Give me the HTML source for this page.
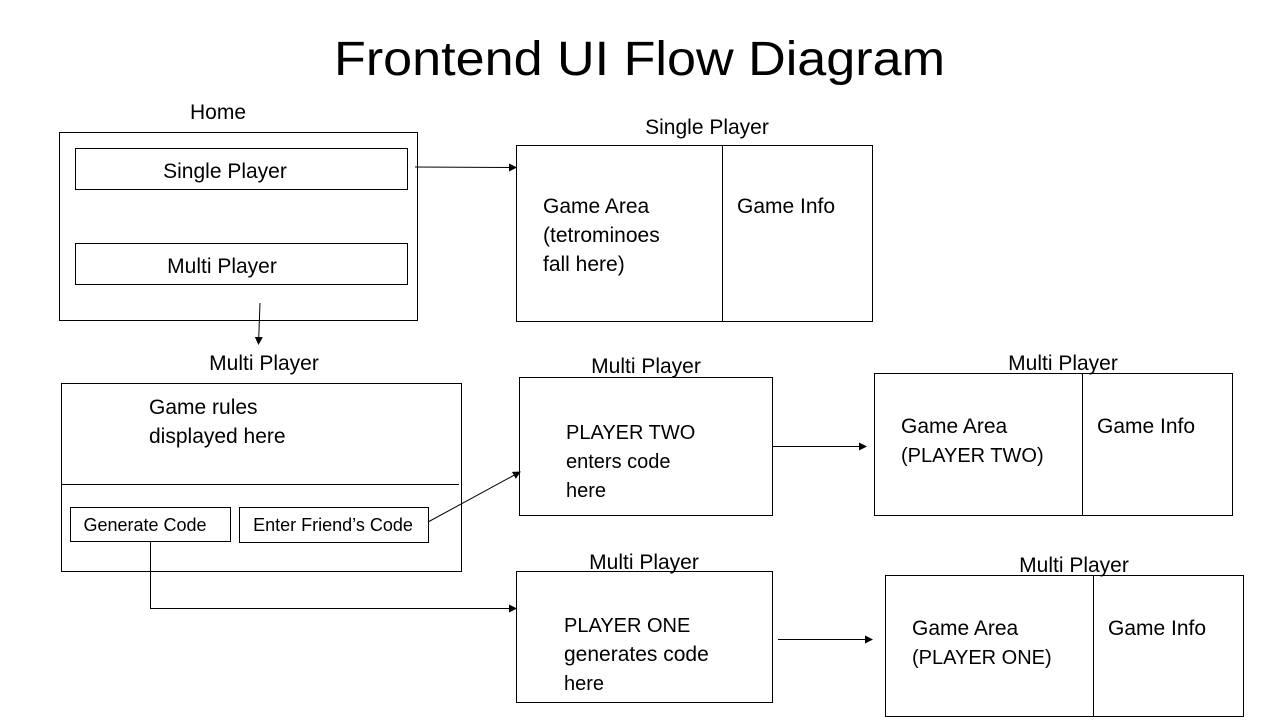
<!DOCTYPE html>
<html><head><meta charset="utf-8"><style>
html,body{margin:0;padding:0;background:#fff;}
svg{display:block}
text{font-family:"Liberation Sans",sans-serif;fill:#000;}
</style></head><body>
<svg width="1280" height="720" viewBox="0 0 1280 720" xmlns="http://www.w3.org/2000/svg">
<defs><marker id="a" markerWidth="8" markerHeight="8" refX="7" refY="4" orient="auto" markerUnits="userSpaceOnUse"><path d="M0,0 L8,4 L0,8 z" fill="#000"/></marker></defs>
<g fill="none" stroke="#000" stroke-width="1">
<rect x="59.5" y="132.5" width="358" height="188"/>
<rect x="75.5" y="148.5" width="332" height="41"/>
<rect x="75.5" y="243.5" width="332" height="41"/>
<rect x="516.5" y="145.5" width="356" height="176"/>
<line x1="722.5" y1="145" x2="722.5" y2="321"/>
<rect x="61.5" y="383.5" width="400" height="188"/>
<line x1="61" y1="484.5" x2="459" y2="484.5"/>
<rect x="70.5" y="507.5" width="160" height="34"/>
<rect x="239.5" y="507.5" width="189" height="35"/>
<rect x="519.5" y="377.5" width="253" height="138"/>
<rect x="874.5" y="373.5" width="358" height="142"/>
<line x1="1082.5" y1="373" x2="1082.5" y2="515"/>
<rect x="516.5" y="571.5" width="256" height="131"/>
<rect x="885.5" y="575.5" width="358" height="141"/>
<line x1="1093.5" y1="575" x2="1093.5" y2="716"/>
<line x1="415" y1="167" x2="516" y2="167.5" marker-end="url(#a)"/>
<line x1="260" y1="303" x2="258.5" y2="344" marker-end="url(#a)"/>
<line x1="428" y1="522" x2="520" y2="472" marker-end="url(#a)"/>
<polyline points="150.5,541 150.5,608.5 516,608.5" marker-end="url(#a)"/>
<line x1="772" y1="446.5" x2="866" y2="446.5" marker-end="url(#a)"/>
<line x1="778" y1="639.5" x2="872" y2="639.5" marker-end="url(#a)"/>
</g>
<text x="334" y="75" font-size="48" textLength="611" lengthAdjust="spacingAndGlyphs">Frontend UI Flow Diagram</text>
<g font-size="21">
<text x="218" y="119" text-anchor="middle">Home</text>
<text x="225" y="178" text-anchor="middle">Single Player</text>
<text x="222" y="273" text-anchor="middle">Multi Player</text>
<text x="707" y="134" text-anchor="middle">Single Player</text>
<text x="543" y="213">Game Area</text>
<text x="543" y="242">(tetrominoes</text>
<text x="543" y="271">fall here)</text>
<text x="737" y="213">Game Info</text>
<text x="264" y="370" text-anchor="middle">Multi Player</text>
<text x="149" y="414">Game rules</text>
<text x="149" y="443">displayed here</text>
<text x="646" y="373" text-anchor="middle">Multi Player</text>
<text x="1063" y="370" text-anchor="middle">Multi Player</text>
<text x="901" y="433">Game Area</text>
<text x="1097" y="433">Game Info</text>
<text x="644" y="569" text-anchor="middle">Multi Player</text>
<text x="564" y="661">generates code</text>
<text x="1074" y="572" text-anchor="middle">Multi Player</text>
<text x="912" y="635">Game Area</text>
<text x="1108" y="635">Game Info</text>
</g>
<g font-size="20">
<text x="566" y="439">PLAYER TWO</text>
<text x="566" y="468">enters code</text>
<text x="566" y="497">here</text>
<text x="901" y="462">(PLAYER TWO)</text>
<text x="564" y="632">PLAYER ONE</text>
<text x="564" y="690">here</text>
<text x="912" y="664">(PLAYER ONE)</text>
</g>
<g font-size="18">
<text x="145" y="531" text-anchor="middle">Generate Code</text>
<text x="333" y="531" text-anchor="middle">Enter Friend’s Code</text>
</g>
</svg>
</body></html>
